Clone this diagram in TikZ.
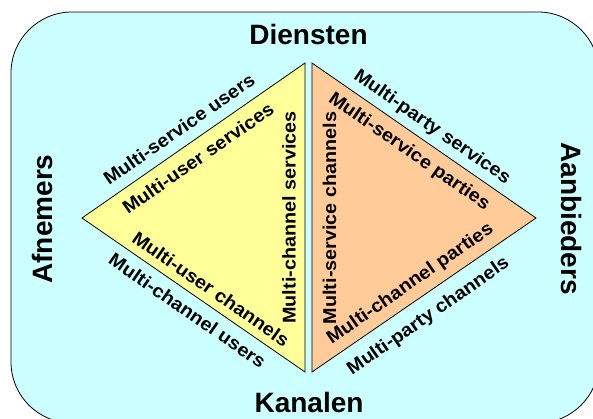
\documentclass[tikz,border=0pt]{standalone}
\usepackage{fontspec}
\setmainfont{Liberation Sans}
\newfontfamily\edgefont{Liberation Sans}[FakeStretch=1.07]
\definecolor{bgcyan}{RGB}{204,255,255}
\definecolor{usryellow}{RGB}{255,255,153}
\definecolor{prvorange}{RGB}{255,204,153}

\begin{document}
\begin{tikzpicture}[x=1pt, y=-1pt,
    corner/.style={font=\bfseries\fontsize{28}{30}\selectfont, inner sep=0pt},
    edgelbl/.style={font=\edgefont\bfseries\fontsize{18.5}{20}\selectfont, inner sep=0pt},
    tri/.style={draw=black, line width=0.8pt, line join=miter}]
  \useasboundingbox (0,0) rectangle (593,419);
  \clip (0,0) rectangle (593,419);
  \draw[fill=bgcyan, line width=0.8pt, rounded corners=61pt] (11,12) rectangle (599,423);

  % corner points of the two triangles
  \coordinate (uL) at (82,218);
  \coordinate (uT) at (305,63);
  \coordinate (uB) at (305,372);
  \coordinate (pT) at (312,63);
  \coordinate (pB) at (312,372);
  \coordinate (pR) at (536,218);
  \draw[tri, fill=usryellow] (uL) -- (uT) -- (uB) -- cycle;
  \draw[tri, fill=prvorange] (pT) -- (pB) -- (pR) -- cycle;

  % the four sides
  \node[corner] (dienst) at (308.5,34) {Diensten};
  \node[corner] (kanaal) at (309,402.5) {Kanalen};
  \node[corner, rotate=90] (afnem) at (42,219) {Afnemers};
  \node[corner, rotate=-90] (aanb) at (571,218.5) {Aanbieders};

  % labels on the user side
  \node[edgelbl, rotate=34.8] (msUsers) at (179,129) {Multi-service users};
  \node[edgelbl, rotate=34.8] (muServ) at (198,158) {Multi-user services};
  \node[edgelbl, rotate=90] (mcServ) at (289,217.5) {Multi-channel services};
  \node[edgelbl, rotate=-34.8] (muChan) at (211,289) {Multi-user channels};
  \node[edgelbl, rotate=-34.8] (mcUsers) at (187.5,310.5) {Multi-channel users};

  % labels on the provider side
  \node[edgelbl, rotate=-34.8] (mpServ) at (432,127.5) {Multi-party services};
  \node[edgelbl, rotate=-34.8] (msPart) at (409,152) {Multi-service parties};
  \node[edgelbl, rotate=90] (msChan) at (329.5,218) {Multi-service channels};
  \node[edgelbl, rotate=34.8] (mcPart) at (410.5,284) {Multi-channel parties};
  \node[edgelbl, rotate=34.8] (mpChan) at (428.5,316.5) {Multi-party channels};
\end{tikzpicture}
\end{document}
